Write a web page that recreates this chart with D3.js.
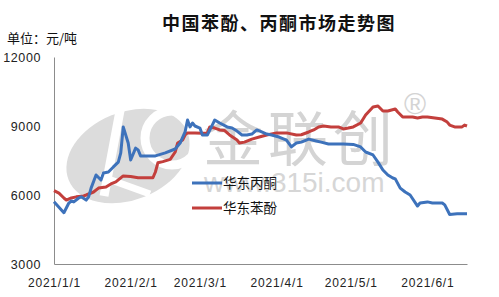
<!DOCTYPE html>
<html>
<head>
<meta charset="utf-8">
<script src="https://cdn.jsdelivr.net/npm/d3@7"></script>
<style>
  html, body { margin: 0; padding: 0; background: #fff; }
  svg { display: block; font-family: "Liberation Sans", "Noto Sans CJK SC", sans-serif; }
</style>
</head>
<body>
<div id="chart"></div>
<script>
// 华东丙酮 (acetone), yuan/ton
var acetoneDates = ["2021-01-01","2021-01-05","2021-01-07","2021-01-08","2021-01-09","2021-01-11","2021-01-12","2021-01-14","2021-01-15","2021-01-16",
  "2021-01-18","2021-01-20","2021-01-21","2021-01-23","2021-01-25","2021-01-27","2021-01-28","2021-01-29","2021-01-31","2021-02-01",
  "2021-02-03","2021-02-04","2021-02-05","2021-02-11","2021-02-15","2021-02-19","2021-02-21","2021-02-23","2021-02-24","2021-02-25",
  "2021-02-26","2021-02-27","2021-03-01","2021-03-02","2021-03-04","2021-03-06","2021-03-07","2021-03-09","2021-03-12","2021-03-14",
  "2021-03-16","2021-03-18","2021-03-20","2021-03-22","2021-03-24","2021-03-26","2021-03-28","2021-03-30","2021-04-02","2021-04-05",
  "2021-04-07","2021-04-09","2021-04-11","2021-04-14","2021-04-17","2021-04-19","2021-04-22","2021-04-28","2021-05-02","2021-05-05",
  "2021-05-07","2021-05-10","2021-05-12","2021-05-14","2021-05-16","2021-05-18","2021-05-19","2021-05-21","2021-05-23","2021-05-25",
  "2021-05-28","2021-05-29","2021-06-01","2021-06-03","2021-06-07","2021-06-08","2021-06-10","2021-06-13","2021-06-17"];
var acetoneValues = [5710,5230,5650,5740,5700,5870,5920,5780,5920,6300,
  6870,6650,6960,7000,7220,7430,7830,8960,8260,7520,
  8040,7960,7700,7700,7830,8000,8260,8740,9260,8960,
  9130,9000,8910,8610,8610,9040,9260,9130,8960,8910,
  8780,8610,8610,8650,8830,8740,8650,8610,8520,8390,
  8090,8260,8300,8430,8350,8300,8220,8220,8200,8090,
  7870,7740,7430,7090,6870,6740,6700,6300,6130,6000,
  5520,5650,5700,5650,5650,5570,5150,5180,5180];

// 华东苯酚 (phenol), yuan/ton
var phenolDates = ["2021-01-01","2021-01-03","2021-01-05","2021-01-06","2021-01-08","2021-01-10","2021-01-13","2021-01-14","2021-01-17","2021-01-19",
  "2021-01-22","2021-01-24","2021-01-26","2021-01-29","2021-02-01","2021-02-04","2021-02-10","2021-02-11","2021-02-12","2021-02-14",
  "2021-02-17","2021-02-19","2021-02-20","2021-02-22","2021-02-23","2021-02-24","2021-02-27","2021-03-02","2021-03-04","2021-03-05",
  "2021-03-07","2021-03-09","2021-03-11","2021-03-13","2021-03-16","2021-03-17","2021-03-19","2021-03-22","2021-03-25","2021-03-28",
  "2021-04-01","2021-04-05","2021-04-09","2021-04-11","2021-04-14","2021-04-16","2021-04-18","2021-04-20","2021-04-23","2021-04-26",
  "2021-04-28","2021-04-30","2021-05-02","2021-05-05","2021-05-07","2021-05-10","2021-05-12","2021-05-14","2021-05-16","2021-05-19",
  "2021-05-20","2021-05-22","2021-05-26","2021-05-28","2021-05-30","2021-06-01","2021-06-04","2021-06-07","2021-06-09","2021-06-10",
  "2021-06-12","2021-06-15","2021-06-16","2021-06-17"];
var phenolValues = [6190,6080,5870,5780,5870,5920,5960,6000,6130,6300,
  6350,6480,6570,6830,6800,6750,6750,7000,7400,7450,
  7550,7870,8260,8390,8610,8700,8700,8680,8700,8960,
  8910,8830,8800,8610,8390,8260,8300,8430,8520,8610,
  8700,8700,8610,8620,8740,8830,8960,9000,8960,8960,
  8870,8910,8960,9130,9480,9830,9870,9650,9650,9740,
  9610,9390,9390,9350,9390,9390,9350,9300,9170,9040,
  8960,8960,9040,9000];

var yTicks = [3000, 6000, 9000, 12000];
var xTickDates = ["2021-01-01","2021-02-01","2021-03-01","2021-04-01","2021-05-01","2021-06-01"];
var seriesNames = ["华东丙酮", "华东苯酚"];
var seriesColors = ["#3d72bb", "#c33f3c"];

var width = 499, height = 297;
var margin = {top: 57, right: 32, bottom: 33, left: 54};
var innerW = width - margin.left - margin.right;
var innerH = height - margin.top - margin.bottom;

var parse = d3.timeParse("%Y-%m-%d");

var svg = d3.select("#chart").append("svg")
  .attr("width", width)
  .attr("height", height);

var x = d3.scaleTime()
  .domain([parse("2021-01-01"), parse("2021-06-17")])
  .range([0, innerW]);
var y = d3.scaleLinear().domain([3000, 12000]).range([innerH, 0]);

// watermark (drawn first so the lines sit on top)
var wm = svg.append("g").attr("class", "watermark");
wm.append("ellipse")
  .attr("cx", 128).attr("cy", 156).attr("rx", 64).attr("ry", 44)
  .attr("transform", "rotate(-22,128,156)")
  .attr("fill", "#dcdcdc");
wm.append("path")
  .attr("d", "M122,100 L104,196")
  .attr("stroke", "#fff").attr("stroke-width", 9).attr("fill", "none");
wm.append("path")
  .attr("d", "M100,176 L150,194")
  .attr("stroke", "#fff").attr("stroke-width", 7).attr("fill", "none");
wm.append("circle")
  .attr("cx", 172).attr("cy", 138).attr("r", 27)
  .attr("fill", "none").attr("stroke", "#fff").attr("stroke-width", 9);
wm.append("text")
  .attr("x", 203).attr("y", 161)
  .attr("font-family", "Noto Sans CJK SC")
  .attr("font-size", 60).attr("letter-spacing", 5)
  .attr("fill", "#d4d4d4")
  .text("金联创");
wm.append("text")
  .attr("x", 404).attr("y", 114)
  .attr("font-size", 30)
  .attr("fill", "#d4d4d4")
  .text("®");
wm.append("text")
  .attr("x", 204).attr("y", 192)
  .attr("font-size", 28)
  .attr("fill", "#d6d6d6")
  .text("www.315i.com");

var g = svg.append("g").attr("transform", "translate(" + margin.left + "," + margin.top + ")");

// axes
g.append("g")
  .attr("transform", "translate(0," + innerH + ")")
  .call(d3.axisBottom(x)
    .tickValues(xTickDates.map(parse))
    .tickFormat(d3.timeFormat("%Y/%-m/%-d"))
    .tickSize(0)
    .tickPadding(14))
  .call(function (a) {
    a.select(".domain").attr("stroke", "#8c8c8c");
    a.selectAll("text").attr("font-size", 12).attr("letter-spacing", 0.8)
      .attr("fill", "#222").attr("font-family", "Liberation Sans");
  });

g.append("g")
  .call(d3.axisLeft(y)
    .tickValues(yTicks)
    .tickFormat(d3.format("d"))
    .tickSize(0)
    .tickPadding(13))
  .call(function (a) {
    a.select(".domain").attr("stroke", "#8c8c8c");
    a.selectAll("text").attr("font-size", 12.5).attr("letter-spacing", 0.6)
      .attr("fill", "#222").attr("font-family", "Liberation Sans");
  });

// lines
var line = d3.line()
  .x(function (d) { return x(d.date); })
  .y(function (d) { return y(d.value); });

var series = [
  acetoneDates.map(function (d, i) { return {date: parse(d), value: acetoneValues[i]}; }),
  phenolDates.map(function (d, i) { return {date: parse(d), value: phenolValues[i]}; })
];

// phenol drawn first, acetone on top
[1, 0].forEach(function (k) {
  g.append("path")
    .datum(series[k])
    .attr("fill", "none")
    .attr("stroke", seriesColors[k])
    .attr("stroke-width", 3)
    .attr("stroke-linejoin", "round")
    .attr("d", line);
});

// legend
var legend = svg.append("g").attr("transform", "translate(192,183)");
seriesNames.forEach(function (name, i) {
  var row = legend.append("g").attr("transform", "translate(0," + (i * 25) + ")");
  row.append("line")
    .attr("x1", 0).attr("x2", 30)
    .attr("stroke", seriesColors[i]).attr("stroke-width", 3);
  row.append("text")
    .attr("x", 31).attr("y", 0).attr("dy", "0.36em")
    .attr("font-family", "Noto Sans CJK SC")
    .attr("font-size", 13.5)
    .attr("fill", "#111")
    .text(name);
});

// unit and title
svg.append("text")
  .attr("x", 7).attr("y", 43)
  .attr("font-family", "Noto Sans CJK SC")
  .attr("font-size", 13)
  .attr("fill", "#111")
  .text("单位：元/吨");

svg.append("text")
  .attr("x", 279).attr("y", 30)
  .attr("text-anchor", "middle")
  .attr("font-family", "Noto Sans CJK SC")
  .attr("font-size", 18)
  .attr("font-weight", "bold")
  .attr("letter-spacing", 1.5)
  .attr("fill", "#111")
  .text("中国苯酚、丙酮市场走势图");
</script>
</body>
</html>
